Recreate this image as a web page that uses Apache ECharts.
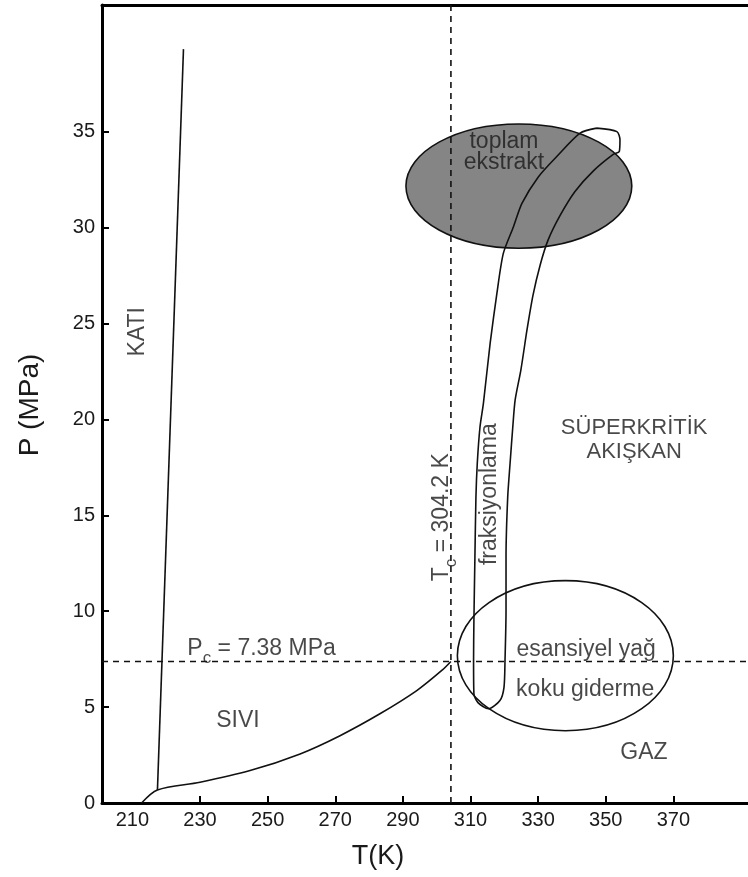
<!DOCTYPE html>
<html>
<head>
<meta charset="utf-8">
<script src="https://cdn.jsdelivr.net/npm/echarts@6/dist/echarts.min.js"></script>
<style>
  html, body { margin: 0; padding: 0; background: #fff; }
  #chart { width: 748px; height: 877px; }
</style>
</head>
<body>
<div id="chart"></div>
<script>
// CO2 phase diagram (T in K, P in MPa) with extraction regions

// Tick labels
const xTickLabels = [210, 230, 250, 270, 290, 310, 330, 350, 370];
const xTickMarks = [230, 250, 270, 290, 310, 330, 350, 370];
const yTickLabels = [0, 5, 10, 15, 20, 25, 30, 35];

// Critical point
const criticalT = 304.2;
const criticalP = 7.38;

// Liquid–vapour (boiling) curve, ends at the critical point
const boilT = [212.7, 217.4, 230.0, 244.8, 259.6, 271.4, 283.2, 294.1, 301.5, criticalT];
const boilP = [0.0, 0.68, 1.08, 1.69, 2.56, 3.51, 4.65, 5.86, 6.91, criticalP];

// Solid–liquid (melting) line
const meltT = [217.4, 225.1];
const meltP = [0.68, 39.3];

// Fractionation band (closed loop: left edge down, round bottom, right edge up, top loop)
const fracT = [347.3, 342.4, 335.5, 330.1, 325.2, 322.7, 319.7, 317.8, 315.8, 313.8,
               312.8, 312.0, 311.6, 311.3, 311.0, 310.9, 311.0, 312.2, 315.3, 318.7,
               319.9, 320.2, 320.5, 320.5, 321.0, 321.7, 322.5, 323.2, 324.9, 326.7,
               328.5, 330.6, 332.9, 336.5, 340.9, 346.2, 352.2, 354.0, 354.2, 353.3, 347.3];
const fracP = [35.18, 34.92, 33.70, 32.65, 31.26, 30.04, 28.65, 26.57, 23.96, 20.82,
               19.60, 17.71, 15.95, 12.82, 9.51, 7.43, 5.70, 5.23, 4.91, 5.34,
               6.03, 7.43, 10.04, 12.82, 15.95, 17.71, 19.60, 21.01, 22.58, 24.66,
               26.49, 28.05, 29.33, 30.63, 31.88, 32.93, 33.81, 33.96, 34.57, 35.00, 35.18];

// Regions as ellipses: [centre T, centre P, half-width in K, half-height in MPa]
const extractRegion = [324.3, 32.16, 33.4, 3.24];
const oilRegion = [338.05, 7.68, 31.94, 3.91];

const X_MIN = 201, X_MAX = 392.07, Y_MIN = 0, Y_MAX = 41.6;
const FONT = '"Liberation Sans", Arial, Helvetica, sans-serif';
const INK = '#1a1a1a';

const pairs = (xs, ys) => xs.map((x, i) => [x, ys[i]]);

// Region annotations placed in data coordinates
const notes = [
  { at: [211.4, 24.56], text: 'KATI', rotate: 90 },
  { at: [241.2, 4.28], text: 'SIVI' },
  { at: [248.2, 8.05], text: '{m|P}{s|c}{m| = 7.38 MPa}' },
  { at: [301.6, 14.9], text: '{m|T}{s|c}{m| = 304.2 K}', rotate: 90 },
  { at: [315.8, 16.1], text: 'fraksiyonlama', rotate: 90 },
  { at: [358.4, 18.93], text: 'SÜPERKRİTİK\nAKIŞKAN', lineHeight: 24, size: 22 },
  { at: [319.9, 33.94], text: 'toplam\nekstrakt', lineHeight: 21 },
  { at: [344.2, 7.98], text: 'esansiyel yağ' },
  { at: [343.9, 5.89], text: 'koku giderme' },
  { at: [361.3, 2.61], text: 'GAZ' }
];

function ellipseItem(fill) {
  return function (params, api) {
    const c = api.coord([api.value(0), api.value(1)]);
    const s = api.size([api.value(2), api.value(3)]);
    return {
      type: 'ellipse',
      shape: { cx: c[0], cy: c[1], rx: s[0], ry: s[1] },
      style: { fill: fill, stroke: '#111', lineWidth: 1.6 }
    };
  };
}

const lineStyle = { color: '#111', width: 1.6 };
const dashStyle = { color: '#111', width: 1.6, type: [6, 5] };

const chart = echarts.init(document.getElementById('chart'));
chart.setOption({
  animation: false,
  backgroundColor: '#fff',
  grid: { left: 102, right: 0, top: 5, bottom: 74 },
  xAxis: [{
    type: 'value', min: X_MIN, max: X_MAX,
    axisLine: { onZero: false, lineStyle: { color: '#000', width: 3 } },
    axisTick: { inside: true, length: 7, customValues: xTickMarks, lineStyle: { color: '#000', width: 2 } },
    axisLabel: { customValues: xTickLabels, fontSize: 20, color: INK, fontFamily: FONT, margin: 7 },
    splitLine: { show: false }
  }, {
    type: 'value', position: 'top', min: X_MIN, max: X_MAX,
    axisLine: { onZero: false, lineStyle: { color: '#000', width: 3 } },
    axisTick: { show: false }, axisLabel: { show: false }, splitLine: { show: false }
  }],
  yAxis: {
    type: 'value', min: Y_MIN, max: Y_MAX, interval: 5,
    axisLine: { onZero: false, lineStyle: { color: '#000', width: 3 } },
    axisTick: { inside: true, length: 7, customValues: yTickLabels.slice(1), lineStyle: { color: '#000', width: 2 } },
    axisLabel: { customValues: yTickLabels, fontSize: 20, color: INK, fontFamily: FONT, margin: 7 },
    splitLine: { show: false }
  },
  graphic: [
    { type: 'text', x: 378, y: 857, style: { text: 'T(K)', font: '27px ' + FONT, fill: INK, textAlign: 'center', textVerticalAlign: 'middle' } },
    { type: 'text', x: 30, y: 405, rotation: Math.PI / 2, style: { text: 'P (MPa)', font: '28px ' + FONT, fill: INK, textAlign: 'center', textVerticalAlign: 'middle' } }
  ],
  series: [
    { type: 'custom', name: 'toplam ekstrakt', renderItem: ellipseItem('#858585'), data: [extractRegion], encode: { x: 0, y: 1 }, z: 1, silent: true },
    { type: 'custom', name: 'esansiyel yağ', renderItem: ellipseItem('none'), data: [oilRegion], encode: { x: 0, y: 1 }, z: 1, silent: true },
    { type: 'line', data: pairs(boilT, boilP), showSymbol: false, smooth: 0.3, lineStyle: lineStyle, z: 3, silent: true },
    { type: 'line', data: pairs(meltT, meltP), showSymbol: false, lineStyle: lineStyle, z: 3, silent: true },
    { type: 'line', data: pairs(fracT, fracP), showSymbol: false, smooth: 0.25, lineStyle: lineStyle, z: 3, silent: true },
    { type: 'line', data: [[criticalT, Y_MIN], [criticalT, Y_MAX]], showSymbol: false, lineStyle: dashStyle, z: 4, silent: true },
    { type: 'line', data: [[X_MIN, criticalP], [X_MAX, criticalP]], showSymbol: false, lineStyle: dashStyle, z: 4, silent: true },
    {
      type: 'scatter', symbolSize: 0, silent: true, z: 6,
      data: notes.map(n => ({
        value: n.at,
        label: {
          show: true, position: 'inside', formatter: n.text, rotate: n.rotate || 0,
          fontSize: n.size || 23, fontFamily: FONT, color: INK, lineHeight: n.lineHeight || 26, align: 'center',
          rich: {
            m: { fontSize: 23, fontFamily: FONT, color: INK, lineHeight: 36 },
            s: { fontSize: 17, fontFamily: FONT, color: INK, padding: [19, 0, 0, 0] }
          }
        }
      }))
    }
  ]
});
</script>
</body>
</html>
